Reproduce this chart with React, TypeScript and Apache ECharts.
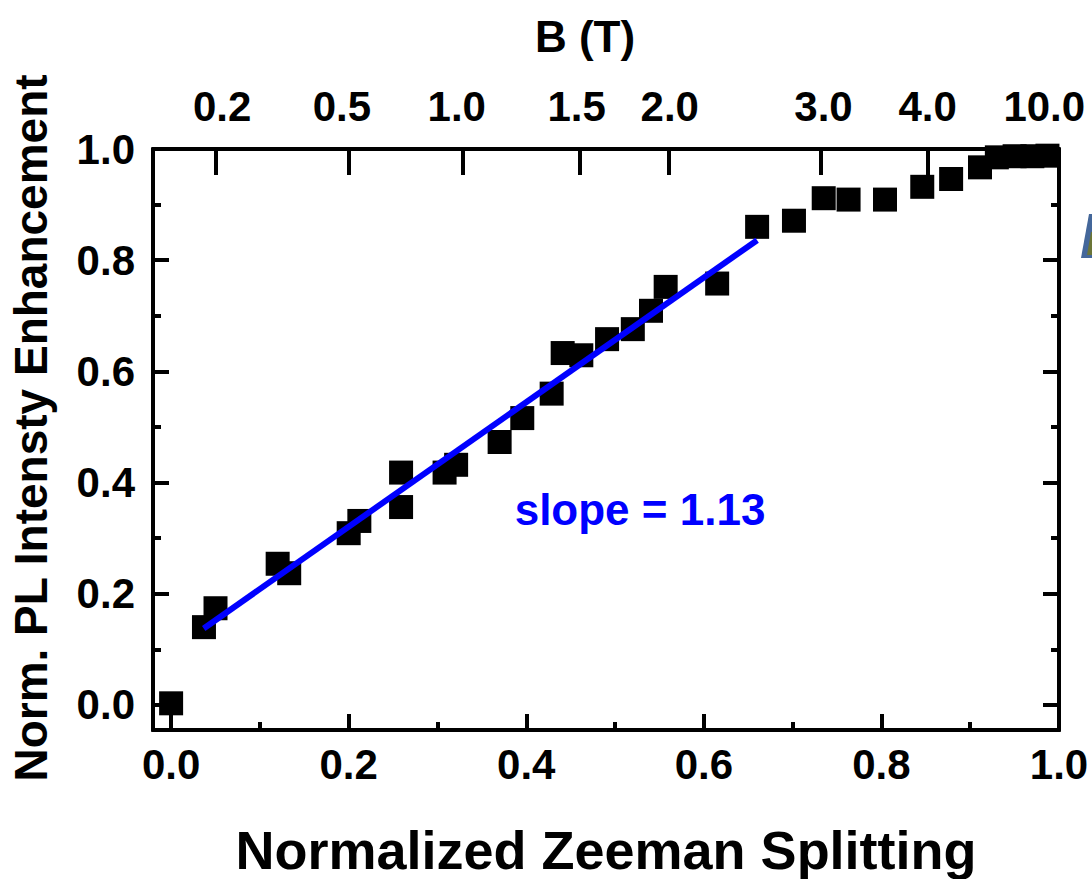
import React, { useEffect, useRef } from "react";
import * as echarts from "echarts";

// Data
const zeemanX = [0.0, 0.037, 0.05, 0.12, 0.133, 0.2, 0.212, 0.259, 0.259, 0.308, 0.321, 0.37, 0.3955, 0.4286, 0.441, 0.462, 0.491, 0.52, 0.5405, 0.557, 0.615, 0.66, 0.7015, 0.735, 0.763, 0.804, 0.846, 0.8785, 0.911, 0.93, 0.95, 0.97, 0.987];
const enhancementY = [0.003, 0.14, 0.174, 0.254, 0.237, 0.309, 0.331, 0.418, 0.356, 0.418, 0.432, 0.473, 0.516, 0.56, 0.633, 0.629, 0.658, 0.676, 0.709, 0.752, 0.758, 0.86, 0.871, 0.9115, 0.909, 0.909, 0.932, 0.946, 0.967, 0.985, 0.987, 0.987, 0.988];

const fitX = [0.0367, 0.66];
const fitY = [0.1376, 0.836];

const xMajorTicks = [0, 0.2, 0.4, 0.6, 0.8, 1.0];
const xMinorTicks = [0.1, 0.3, 0.5, 0.7, 0.9];
const yMajorTicks = [0, 0.2, 0.4, 0.6, 0.8, 1.0];
const yMinorTicks = [0.1, 0.3, 0.5, 0.7, 0.9];

const bTickPos = [0.05, 0.2, 0.329, 0.46, 0.561, 0.732, 0.852, 1.0];
const bLabelPos = [0.0574, 0.1924, 0.3217, 0.4567, 0.5616, 0.7348, 0.852, 0.9834];
const bLabels = ["0.2", "0.5", "1.0", "1.5", "2.0", "3.0", "4.0", "10.0"];

const X_MIN = -0.0204;
const X_MAX = 1.0;
const Y_MIN = -0.045;
const Y_MAX = 1.0;

const FONT = "'Liberation Sans', Arial, Helvetica, sans-serif";
const LINE = { show: true, lineStyle: { color: "#000", width: 4 } };

function xAxisBase(position: string) {
  return {
    type: "value",
    position,
    min: X_MIN,
    max: X_MAX,
    splitLine: { show: false },
    axisLine: { ...LINE, onZero: false },
  };
}
function yAxisBase(position: string) {
  return {
    type: "value",
    position,
    min: Y_MIN,
    max: Y_MAX,
    splitLine: { show: false },
    axisLine: { ...LINE, onZero: false },
  };
}

export default function App() {
  const ref = useRef<HTMLDivElement>(null);
  useEffect(() => {
    if (!ref.current) return;
    const chart = echarts.init(ref.current, undefined, { renderer: "svg" });
    const labelStyle = { color: "#000", fontSize: 42, fontWeight: "bold", fontFamily: FONT };
    const option: any = {
      animation: false,
      backgroundColor: "#fff",
      grid: { left: 153, right: 33, top: 149, bottom: 149, containLabel: false, outerBoundsMode: "none" },
      xAxis: [
        {
          ...xAxisBase("bottom"),
          axisTick: { show: true, inside: true, length: 16, lineStyle: { color: "#000", width: 4 }, customValues: xMajorTicks },
          axisLabel: { ...labelStyle, margin: 13, customValues: xMajorTicks, formatter: (v: number) => v.toFixed(1) },
        },
        {
          ...xAxisBase("bottom"),
          axisTick: { show: true, inside: true, length: 8, lineStyle: { color: "#000", width: 4 }, customValues: xMinorTicks },
          axisLabel: { show: false },
        },
        {
          ...xAxisBase("top"),
          axisTick: { show: true, inside: true, length: 26, lineStyle: { color: "#000", width: 4 }, customValues: bTickPos },
          axisLabel: {
            ...labelStyle,
            margin: 22,
            customValues: bLabelPos,
            formatter: (v: number) => {
              let best = 0;
              for (let i = 0; i < bLabelPos.length; i++) {
                if (Math.abs(bLabelPos[i] - v) < Math.abs(bLabelPos[best] - v)) best = i;
              }
              return bLabels[best];
            },
          },
        },
      ],
      yAxis: [
        {
          ...yAxisBase("left"),
          axisTick: { show: true, inside: true, length: 16, lineStyle: { color: "#000", width: 4 }, customValues: yMajorTicks },
          axisLabel: { ...labelStyle, margin: 18, customValues: yMajorTicks, formatter: (v: number) => v.toFixed(1) },
        },
        {
          ...yAxisBase("left"),
          axisTick: { show: true, inside: true, length: 8, lineStyle: { color: "#000", width: 4 }, customValues: yMinorTicks },
          axisLabel: { show: false },
        },
        {
          ...yAxisBase("right"),
          axisTick: { show: true, inside: true, length: 16, lineStyle: { color: "#000", width: 4 }, customValues: yMajorTicks },
          axisLabel: { show: false },
        },
        {
          ...yAxisBase("right"),
          axisTick: { show: true, inside: true, length: 8, lineStyle: { color: "#000", width: 4 }, customValues: yMinorTicks },
          axisLabel: { show: false },
        },
      ],
      series: [
        {
          type: "scatter",
          xAxisIndex: 0,
          yAxisIndex: 0,
          symbol: "rect",
          symbolSize: 24,
          itemStyle: { color: "#000", opacity: 1 },
          data: zeemanX.map((x, i) => [x, enhancementY[i]]),
          z: 3,
        },
        {
          type: "line",
          xAxisIndex: 0,
          yAxisIndex: 0,
          showSymbol: false,
          symbol: "none",
          lineStyle: { color: "#0000ff", width: 6 },
          data: fitX.map((x, i) => [x, fitY[i]]),
          z: 4,
        },
      ],
      graphic: [
        {
          type: "text",
          x: 606,
          y: 850,
          style: { text: "Normalized Zeeman Splitting", fill: "#000", font: `bold 54px ${FONT}`, textAlign: "center", textVerticalAlign: "middle" },
        },
        {
          type: "text",
          x: 31,
          y: 428,
          rotation: Math.PI / 2,
          style: { text: "Norm. PL Intensty Enhancement", fill: "#000", font: `bold 46px ${FONT}`, textAlign: "center", textVerticalAlign: "middle" },
        },
        {
          type: "text",
          x: 585,
          y: 36,
          style: { text: "B (T)", fill: "#000", font: `bold 44px ${FONT}`, textAlign: "center", textVerticalAlign: "middle" },
        },
        {
          type: "text",
          x: 640,
          y: 509,
          style: { text: "slope = 1.13", fill: "#0000ff", font: `bold 44px ${FONT}`, textAlign: "center", textVerticalAlign: "middle" },
        },
        {
          type: "polygon",
          shape: { points: [[1081, 258], [1089, 214], [1092, 214], [1092, 258]] },
          style: { fill: "#44679a" },
        },
        {
          type: "polygon",
          shape: { points: [[1087, 255], [1091, 232], [1092, 232], [1092, 255]] },
          style: { fill: "#6b7538" },
        },
      ],
    };
    chart.setOption(option);
    return () => chart.dispose();
  }, []);
  return <div ref={ref} style={{ position: "absolute", left: 0, top: 0, width: 1092, height: 879 }} />;
}
